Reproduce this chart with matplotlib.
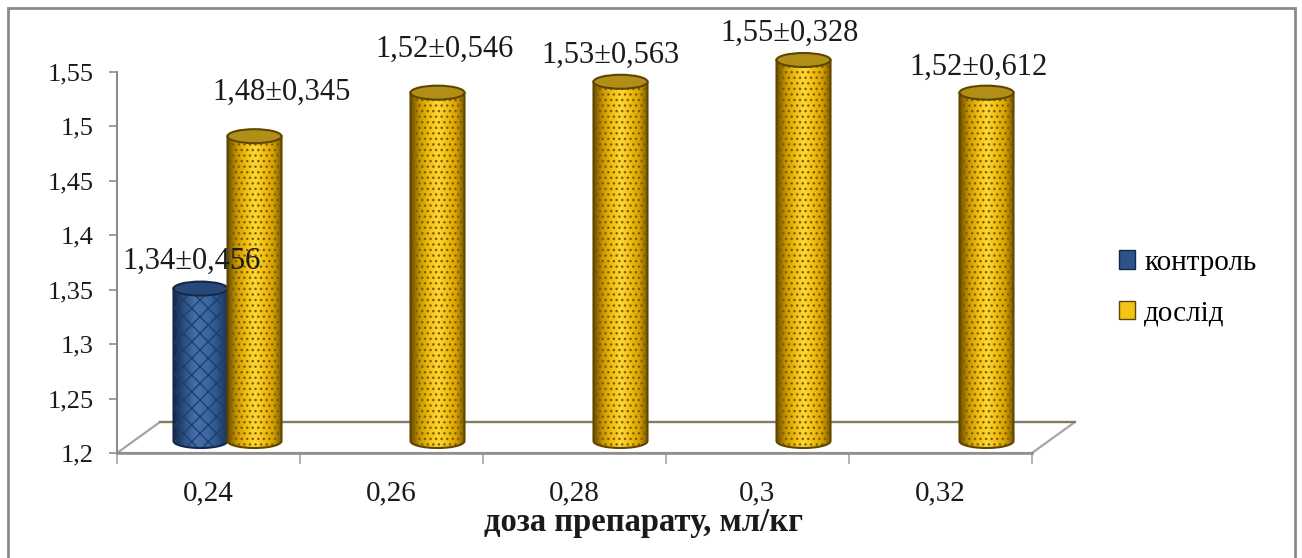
import numpy as np
import matplotlib
matplotlib.use('Agg')
import matplotlib.pyplot as plt
from matplotlib.patches import Polygon, Ellipse, Rectangle, Patch
from matplotlib.colors import LinearSegmentedColormap

# ---------------- data ----------------
categories = ['0,24', '0,26', '0,28', '0,3', '0,32']
control_values = [1.34, None, None, None, None]
control_sd = [0.456, None, None, None, None]
experiment_values = [1.48, 1.52, 1.53, 1.55, 1.52]
experiment_sd = [0.345, 0.546, 0.563, 0.328, 0.612]
series_names = ['контроль', 'дослід']
y_ticks = [1.2, 1.25, 1.3, 1.35, 1.4, 1.45, 1.5, 1.55]
x_title = 'доза препарату, мл/кг'

# label placement tweaks (pixels relative to bar top)
control_label_off = [(-9, 39)]
experiment_label_off = [(27, 56), (7, 55), (-10, 38), (-14, 39), (-8, 37)]

# ---------------- style ----------------
plt.rcParams['font.family'] = ['Liberation Serif', 'DejaVu Serif']
plt.rcParams['hatch.linewidth'] = 1.0

W, H = 1302, 558
fig = plt.figure(figsize=(W / 100, H / 100), dpi=100)
fig.patch.set_facecolor('white')

ax_l, ax_r, ax_b, ax_t = 117, 1032, 453, 72
ax = fig.add_axes([ax_l / W, 1 - ax_b / H, (ax_r - ax_l) / W, (ax_b - ax_t) / H])
ax.set_facecolor('none')
n = len(categories)
xmin, xmax = -0.5, n - 0.5
ymin, ymax = y_ticks[0], y_ticks[-1]

px_x = (ax_r - ax_l) / (xmax - xmin)    # pixels per x unit
px_y = (ax_b - ax_t) / (ymax - ymin)    # pixels per y unit

# offsets expressed in data units
depth_dx, depth_dy = 43 / px_x, 31 / px_y
bar_dx, bar_dy = 19 / px_x, 12 / px_y
ry = 7 / px_y
bar_w = 54 / px_x

# floor parallelogram
floor = Polygon([(xmin, ymin), (xmax, ymin), (xmax + depth_dx, ymin + depth_dy),
                 (xmin + depth_dx, ymin + depth_dy)], closed=True,
                facecolor='white', edgecolor='#a6a6a6', lw=1.6, zorder=1, clip_on=False)
ax.add_patch(floor)
ax.plot([xmin + depth_dx, xmax + depth_dx], [ymin + depth_dy] * 2, color='#857a5c', lw=1.6,
        zorder=1.1, clip_on=False)

yellow_cmap = LinearSegmentedColormap.from_list(
    'y', ['#6e5200', '#c89a00', '#efbf10', '#fcd838', '#f0c014', '#d6a400', '#7a5a00'])
blue_cmap = LinearSegmentedColormap.from_list(
    'b', ['#16294a', '#2c5288', '#4470aa', '#3d69a3', '#2c558c', '#1a3358'])
grad = np.linspace(0, 1, 256).reshape(1, -1)


def cylinder(xc, top, cmap, hatch, hatch_color, edge, cap_face, z):
    x0, x1 = xc - bar_w / 2, xc + bar_w / 2
    base = ymin + bar_dy
    th = np.linspace(np.pi, 2 * np.pi, 60)
    bx = xc + (bar_w / 2) * np.cos(th)
    by = base + ry * np.sin(th)
    verts = [(x0, top)] + list(zip(bx, by)) + [(x1, top)]
    body = Polygon(verts, closed=True, facecolor='none', edgecolor='none', zorder=z,
                   clip_on=False)
    ax.add_patch(body)
    im = ax.imshow(grad, cmap=cmap, extent=(x0, x1, base - ry, top), aspect='auto',
                   origin='lower', interpolation='bilinear', zorder=z)
    im.set_clip_box(fig.bbox)
    im.set_clip_path(body)
    ax.add_patch(Polygon(verts, closed=True, facecolor='none', edgecolor=hatch_color,
                         lw=0, hatch=hatch, zorder=z + 0.1, clip_on=False))
    ax.add_patch(Polygon(verts, closed=True, facecolor='none', edgecolor=edge,
                         lw=1.5, zorder=z + 0.2, clip_on=False))
    ax.add_patch(Ellipse((xc, top), bar_w, 2 * ry, facecolor=cap_face, edgecolor=edge,
                         lw=1.5, zorder=z + 0.3, clip_on=False))


def fmt(v, sd):
    return (f'{v:.2f}±{sd:.3f}').replace('.', ',')


label_fs = 22
for i in range(n):
    v = control_values[i]
    if v is not None:
        xc = i - bar_w / 2 + bar_dx
        cylinder(xc, v + bar_dy, blue_cmap, 'xx', '#203e6c', '#14284a', '#27497a', 3 + i)
        dx, dy = control_label_off[i]
        ax.annotate(fmt(v, control_sd[i]), (xc, v), xytext=(dx, dy), textcoords='offset pixels',
                    ha='center', va='center', fontsize=label_fs, color='#1a1a1a', zorder=20,
                    annotation_clip=False)
for i in range(n):
    v = experiment_values[i]
    xc = i + bar_w / 2 + bar_dx
    cylinder(xc, v + bar_dy, yellow_cmap, '...', '#8a5a00', '#5e4600', '#b08e18', 4 + i)
    dx, dy = experiment_label_off[i]
    ax.annotate(fmt(v, experiment_sd[i]), (xc, v), xytext=(dx, dy), textcoords='offset pixels',
                ha='center', va='center', fontsize=label_fs, color='#1a1a1a', zorder=20,
                annotation_clip=False)

ax.set_xlim(xmin, xmax)
ax.set_ylim(ymin, ymax)

# axes styling
for s in ['top', 'right']:
    ax.spines[s].set_visible(False)
ax.spines['left'].set_color('#8c8c8c')
ax.spines['bottom'].set_color('#8c8c8c')
ax.spines['left'].set_linewidth(1.5)
ax.spines['bottom'].set_linewidth(1.8)
ax.set_yticks(y_ticks)
ax.set_yticklabels([('%g' % t).replace('.', ',') for t in y_ticks])
ax.tick_params(axis='y', length=6, width=1.2, color='#8c8c8c', pad=11, labelsize=19,
               labelcolor='#1a1a1a')
ax.set_xticks(range(n))
ax.set_xticklabels(categories)
ax.set_xticks(np.arange(xmin, xmax + 0.01, 1), minor=True)
ax.tick_params(axis='x', which='major', length=0, pad=20, labelsize=21, labelcolor='#1a1a1a')
ax.tick_params(axis='x', which='minor', length=8, width=1.2, color='#a6a6a6')

fig.text(643 / W, 1 - 523 / H, x_title, ha='center', va='center', fontsize=23.5,
         fontweight='bold', color='#1a1a1a')

# legend
handles = [Patch(facecolor='#2c5288', edgecolor='#14284a'),
           Patch(facecolor='#f2c414', edgecolor='#5e4600')]
fig.legend(handles, series_names, loc='center left', bbox_to_anchor=(1093 / W, 1 - 288 / H),
           frameon=False, fontsize=21, handlelength=0.55, handleheight=0.6, handletextpad=0.3,
           labelspacing=0.85)

# chart border
fig.add_artist(Rectangle((8 / W, -0.02), (1295 - 8) / W, 1 - 8 / H + 0.02,
                         transform=fig.transFigure, facecolor='none', edgecolor='#8a8a8a',
                         lw=2.0))

fig.savefig('out.png', dpi=100)
